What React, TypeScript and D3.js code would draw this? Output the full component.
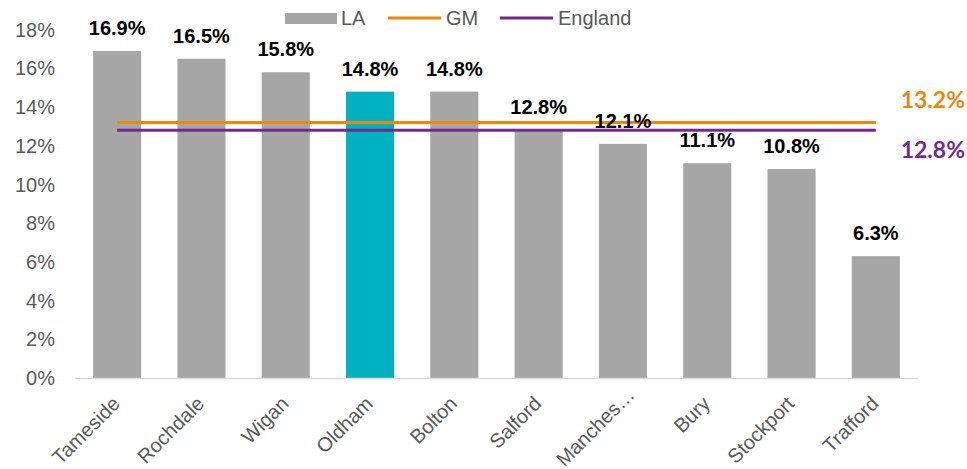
import React from "react";
import * as d3 from "d3";

const categories = ["Tameside", "Rochdale", "Wigan", "Oldham", "Bolton", "Salford", "Manches…", "Bury", "Stockport", "Trafford"];
const laValues = [16.9, 16.5, 15.8, 14.8, 14.8, 12.8, 12.1, 11.1, 10.8, 6.3];
const gmValue = 13.2;
const englandValue = 12.8;
const yTicks = [0, 2, 4, 6, 8, 10, 12, 14, 16, 18];
const highlight = "Oldham";

const W = 967;
const H = 469;
const FONT = "'Liberation Sans', Arial, sans-serif";

export default function App() {
  const x = d3.scaleBand<string>().domain(categories).range([75, 918]).paddingInner(0.43).paddingOuter(0.215);
  const y = d3.scaleLinear().domain([0, 18]).range([378, 29.7]);
  const bw = x.bandwidth();
  const cx = (c: string) => (x(c) as number) + bw / 2;
  const x0 = cx(categories[0]);
  const x1 = cx(categories[categories.length - 1]);

  return (
    <svg width={W} height={H} style={{ position: "absolute", left: 0, top: 0 }} fontFamily={FONT}>
      <rect width={W} height={H} fill="#fff" />
      {yTicks.map((t) => (
        <text key={t} x={55} y={y(t)} dy="0.35em" textAnchor="end" fontSize={20} fill="#595959">
          {t}%
        </text>
      ))}
      {categories.map((c, i) => (
        <rect
          key={c}
          x={x(c)}
          y={y(laValues[i])}
          width={bw}
          height={y(0) - y(laValues[i])}
          fill={c === highlight ? "#00B1BF" : "#A6A6A6"}
        />
      ))}
      <line x1={75} x2={918} y1={378.5} y2={378.5} stroke="#D9D9D9" strokeWidth={1.5} />
      <line x1={x0} x2={x1} y1={y(gmValue)} y2={y(gmValue)} stroke="#EA870D" strokeWidth={3} />
      <line x1={x0} x2={x1} y1={y(englandValue)} y2={y(englandValue)} stroke="#722A8C" strokeWidth={3} />
      {categories.map((c, i) => (
        <text key={c} x={cx(c)} y={y(laValues[i]) - 16} textAnchor="middle" fontSize={20} fontWeight="bold" fill="#000">
          {laValues[i].toFixed(1)}%
        </text>
      ))}
      {categories.map((c) => {
        const shift = c.endsWith("…") ? 9 : 0;
        return (
          <text
            key={c}
            transform={`translate(${cx(c) + 4 + shift},${405 - shift}) rotate(-45)`}
            textAnchor="end"
            fontSize={20}
            fill="#595959"
          >
            {c}
          </text>
        );
      })}
      <text x={965} y={100} dy="0.35em" textAnchor="end" fontSize={23} fontWeight="bold" fill="#EA870D" fontFamily="Lato, sans-serif">
        {gmValue.toFixed(1)}%
      </text>
      <text x={965} y={150} dy="0.35em" textAnchor="end" fontSize={23} fontWeight="bold" fill="#722A8C" fontFamily="Lato, sans-serif">
        {englandValue.toFixed(1)}%
      </text>
      <g fontSize={20} fill="#595959">
        <rect x={285} y={13} width={52} height={11} fill="#A6A6A6" />
        <text x={341} y={18} dy="0.35em">LA</text>
        <line x1={388} x2={441} y1={18} y2={18} stroke="#EA870D" strokeWidth={3} />
        <text x={446} y={18} dy="0.35em">GM</text>
        <line x1={500} x2={553} y1={18} y2={18} stroke="#722A8C" strokeWidth={3} />
        <text x={558} y={18} dy="0.35em">England</text>
      </g>
    </svg>
  );
}
